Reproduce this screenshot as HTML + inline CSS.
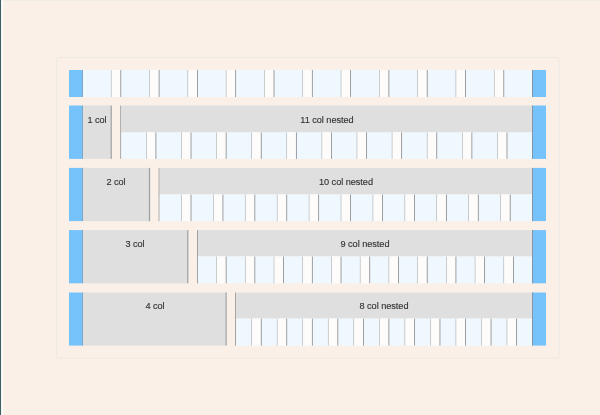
<!DOCTYPE html>
<html><head><meta charset="utf-8"><style>
html,body{margin:0;padding:0;}
body{width:600px;height:415px;background:#faf0e7;position:relative;overflow:hidden;font-family:"Liberation Sans",sans-serif;}
.t{position:absolute;width:120px;text-align:center;font-size:9.2px;letter-spacing:-0.05px;will-change:transform;line-height:12px;color:#333333;white-space:nowrap;-webkit-text-stroke:0.14px #333333;}
</style></head><body>
<svg width="600" height="415" viewBox="0 0 600 415" style="position:absolute;left:0;top:0"><rect x="0" y="0" width="600" height="1" fill="#efebe7"/><rect x="0" y="0" width="1.2" height="415" fill="#3e5d67"/><rect x="1.2" y="0" width="1.9" height="415" fill="#fdfdfb"/><rect x="56.6" y="57.5" width="502.7" height="300.8" rx="2.5" fill="none" stroke="#eeeae6" stroke-width="1.1"/><rect x="69.000" y="70.000" width="14.000" height="27.000" fill="#76c3fb"/><rect x="82.200" y="70.000" width="0.600" height="27.000" fill="#8793a0"/><rect x="532.000" y="70.000" width="14.000" height="27.000" fill="#76c3fb"/><rect x="532.150" y="70.000" width="0.700" height="27.000" fill="#8a8480"/><rect x="83.000" y="70.000" width="449.000" height="27.000" fill="#eff8ff"/><rect x="110.700" y="70.000" width="10.600" height="27.000" fill="#fdfcfb"/><rect x="110.900" y="70.000" width="0.600" height="27.000" fill="#a3abb2"/><rect x="120.420" y="70.000" width="0.760" height="27.000" fill="#7e8185"/><rect x="149.000" y="70.000" width="10.600" height="27.000" fill="#fdfcfb"/><rect x="149.200" y="70.000" width="0.600" height="27.000" fill="#a3abb2"/><rect x="158.720" y="70.000" width="0.760" height="27.000" fill="#7e8185"/><rect x="187.300" y="70.000" width="10.600" height="27.000" fill="#fdfcfb"/><rect x="187.500" y="70.000" width="0.600" height="27.000" fill="#a3abb2"/><rect x="197.020" y="70.000" width="0.760" height="27.000" fill="#7e8185"/><rect x="225.600" y="70.000" width="10.600" height="27.000" fill="#fdfcfb"/><rect x="225.800" y="70.000" width="0.600" height="27.000" fill="#a3abb2"/><rect x="235.320" y="70.000" width="0.760" height="27.000" fill="#7e8185"/><rect x="263.900" y="70.000" width="10.600" height="27.000" fill="#fdfcfb"/><rect x="264.100" y="70.000" width="0.600" height="27.000" fill="#a3abb2"/><rect x="273.620" y="70.000" width="0.760" height="27.000" fill="#7e8185"/><rect x="302.200" y="70.000" width="10.600" height="27.000" fill="#fdfcfb"/><rect x="302.400" y="70.000" width="0.600" height="27.000" fill="#a3abb2"/><rect x="311.920" y="70.000" width="0.760" height="27.000" fill="#7e8185"/><rect x="340.500" y="70.000" width="10.600" height="27.000" fill="#fdfcfb"/><rect x="340.700" y="70.000" width="0.600" height="27.000" fill="#a3abb2"/><rect x="350.220" y="70.000" width="0.760" height="27.000" fill="#7e8185"/><rect x="378.800" y="70.000" width="10.600" height="27.000" fill="#fdfcfb"/><rect x="379.000" y="70.000" width="0.600" height="27.000" fill="#a3abb2"/><rect x="388.520" y="70.000" width="0.760" height="27.000" fill="#7e8185"/><rect x="417.100" y="70.000" width="10.600" height="27.000" fill="#fdfcfb"/><rect x="417.300" y="70.000" width="0.600" height="27.000" fill="#a3abb2"/><rect x="426.820" y="70.000" width="0.760" height="27.000" fill="#7e8185"/><rect x="455.400" y="70.000" width="10.600" height="27.000" fill="#fdfcfb"/><rect x="455.600" y="70.000" width="0.600" height="27.000" fill="#a3abb2"/><rect x="465.120" y="70.000" width="0.760" height="27.000" fill="#7e8185"/><rect x="493.700" y="70.000" width="10.600" height="27.000" fill="#fdfcfb"/><rect x="493.900" y="70.000" width="0.600" height="27.000" fill="#a3abb2"/><rect x="503.420" y="70.000" width="0.760" height="27.000" fill="#7e8185"/><rect x="69.000" y="105.500" width="14.000" height="53.400" fill="#76c3fb"/><rect x="82.200" y="105.500" width="0.600" height="53.400" fill="#8793a0"/><rect x="532.000" y="105.500" width="14.000" height="53.400" fill="#76c3fb"/><rect x="532.150" y="105.500" width="0.700" height="53.400" fill="#8a8480"/><rect x="83.000" y="105.500" width="27.700" height="53.400" fill="#dfdfdf"/><rect x="110.600" y="105.500" width="1.200" height="53.400" fill="#9a9fa4"/><rect x="120.420" y="105.500" width="0.760" height="53.400" fill="#7e8185"/><rect x="121.300" y="105.500" width="410.700" height="26.900" fill="#dfdfdf"/><rect x="121.300" y="132.400" width="410.700" height="26.500" fill="#eff8ff"/><rect x="145.808" y="132.400" width="10.600" height="26.500" fill="#fdfcfb"/><rect x="146.008" y="132.400" width="0.600" height="26.500" fill="#a3abb2"/><rect x="155.528" y="132.400" width="0.760" height="26.500" fill="#7e8185"/><rect x="180.917" y="132.400" width="10.600" height="26.500" fill="#fdfcfb"/><rect x="181.117" y="132.400" width="0.600" height="26.500" fill="#a3abb2"/><rect x="190.637" y="132.400" width="0.760" height="26.500" fill="#7e8185"/><rect x="216.025" y="132.400" width="10.600" height="26.500" fill="#fdfcfb"/><rect x="216.225" y="132.400" width="0.600" height="26.500" fill="#a3abb2"/><rect x="225.745" y="132.400" width="0.760" height="26.500" fill="#7e8185"/><rect x="251.133" y="132.400" width="10.600" height="26.500" fill="#fdfcfb"/><rect x="251.333" y="132.400" width="0.600" height="26.500" fill="#a3abb2"/><rect x="260.853" y="132.400" width="0.760" height="26.500" fill="#7e8185"/><rect x="286.242" y="132.400" width="10.600" height="26.500" fill="#fdfcfb"/><rect x="286.442" y="132.400" width="0.600" height="26.500" fill="#a3abb2"/><rect x="295.962" y="132.400" width="0.760" height="26.500" fill="#7e8185"/><rect x="321.350" y="132.400" width="10.600" height="26.500" fill="#fdfcfb"/><rect x="321.550" y="132.400" width="0.600" height="26.500" fill="#a3abb2"/><rect x="331.070" y="132.400" width="0.760" height="26.500" fill="#7e8185"/><rect x="356.458" y="132.400" width="10.600" height="26.500" fill="#fdfcfb"/><rect x="356.658" y="132.400" width="0.600" height="26.500" fill="#a3abb2"/><rect x="366.178" y="132.400" width="0.760" height="26.500" fill="#7e8185"/><rect x="391.567" y="132.400" width="10.600" height="26.500" fill="#fdfcfb"/><rect x="391.767" y="132.400" width="0.600" height="26.500" fill="#a3abb2"/><rect x="401.287" y="132.400" width="0.760" height="26.500" fill="#7e8185"/><rect x="426.675" y="132.400" width="10.600" height="26.500" fill="#fdfcfb"/><rect x="426.875" y="132.400" width="0.600" height="26.500" fill="#a3abb2"/><rect x="436.395" y="132.400" width="0.760" height="26.500" fill="#7e8185"/><rect x="461.783" y="132.400" width="10.600" height="26.500" fill="#fdfcfb"/><rect x="461.983" y="132.400" width="0.600" height="26.500" fill="#a3abb2"/><rect x="471.503" y="132.400" width="0.760" height="26.500" fill="#7e8185"/><rect x="496.892" y="132.400" width="10.600" height="26.500" fill="#fdfcfb"/><rect x="497.092" y="132.400" width="0.600" height="26.500" fill="#a3abb2"/><rect x="506.612" y="132.400" width="0.760" height="26.500" fill="#7e8185"/><rect x="69.000" y="167.900" width="14.000" height="53.200" fill="#76c3fb"/><rect x="82.200" y="167.900" width="0.600" height="53.200" fill="#8793a0"/><rect x="532.000" y="167.900" width="14.000" height="53.200" fill="#76c3fb"/><rect x="532.150" y="167.900" width="0.700" height="53.200" fill="#8a8480"/><rect x="83.000" y="167.900" width="66.000" height="53.200" fill="#dfdfdf"/><rect x="148.900" y="167.900" width="1.200" height="53.200" fill="#9a9fa4"/><rect x="158.720" y="167.900" width="0.760" height="53.200" fill="#7e8185"/><rect x="159.600" y="167.900" width="372.400" height="26.600" fill="#dfdfdf"/><rect x="159.600" y="194.500" width="372.400" height="26.600" fill="#eff8ff"/><rect x="180.917" y="194.500" width="10.600" height="26.600" fill="#fdfcfb"/><rect x="181.117" y="194.500" width="0.600" height="26.600" fill="#a3abb2"/><rect x="190.637" y="194.500" width="0.760" height="26.600" fill="#7e8185"/><rect x="212.833" y="194.500" width="10.600" height="26.600" fill="#fdfcfb"/><rect x="213.033" y="194.500" width="0.600" height="26.600" fill="#a3abb2"/><rect x="222.553" y="194.500" width="0.760" height="26.600" fill="#7e8185"/><rect x="244.750" y="194.500" width="10.600" height="26.600" fill="#fdfcfb"/><rect x="244.950" y="194.500" width="0.600" height="26.600" fill="#a3abb2"/><rect x="254.470" y="194.500" width="0.760" height="26.600" fill="#7e8185"/><rect x="276.667" y="194.500" width="10.600" height="26.600" fill="#fdfcfb"/><rect x="276.867" y="194.500" width="0.600" height="26.600" fill="#a3abb2"/><rect x="286.387" y="194.500" width="0.760" height="26.600" fill="#7e8185"/><rect x="308.583" y="194.500" width="10.600" height="26.600" fill="#fdfcfb"/><rect x="308.783" y="194.500" width="0.600" height="26.600" fill="#a3abb2"/><rect x="318.303" y="194.500" width="0.760" height="26.600" fill="#7e8185"/><rect x="340.500" y="194.500" width="10.600" height="26.600" fill="#fdfcfb"/><rect x="340.700" y="194.500" width="0.600" height="26.600" fill="#a3abb2"/><rect x="350.220" y="194.500" width="0.760" height="26.600" fill="#7e8185"/><rect x="372.417" y="194.500" width="10.600" height="26.600" fill="#fdfcfb"/><rect x="372.617" y="194.500" width="0.600" height="26.600" fill="#a3abb2"/><rect x="382.137" y="194.500" width="0.760" height="26.600" fill="#7e8185"/><rect x="404.333" y="194.500" width="10.600" height="26.600" fill="#fdfcfb"/><rect x="404.533" y="194.500" width="0.600" height="26.600" fill="#a3abb2"/><rect x="414.053" y="194.500" width="0.760" height="26.600" fill="#7e8185"/><rect x="436.250" y="194.500" width="10.600" height="26.600" fill="#fdfcfb"/><rect x="436.450" y="194.500" width="0.600" height="26.600" fill="#a3abb2"/><rect x="445.970" y="194.500" width="0.760" height="26.600" fill="#7e8185"/><rect x="468.167" y="194.500" width="10.600" height="26.600" fill="#fdfcfb"/><rect x="468.367" y="194.500" width="0.600" height="26.600" fill="#a3abb2"/><rect x="477.887" y="194.500" width="0.760" height="26.600" fill="#7e8185"/><rect x="500.083" y="194.500" width="10.600" height="26.600" fill="#fdfcfb"/><rect x="500.283" y="194.500" width="0.600" height="26.600" fill="#a3abb2"/><rect x="509.803" y="194.500" width="0.760" height="26.600" fill="#7e8185"/><rect x="69.000" y="230.100" width="14.000" height="53.200" fill="#76c3fb"/><rect x="82.200" y="230.100" width="0.600" height="53.200" fill="#8793a0"/><rect x="532.000" y="230.100" width="14.000" height="53.200" fill="#76c3fb"/><rect x="532.150" y="230.100" width="0.700" height="53.200" fill="#8a8480"/><rect x="83.000" y="230.100" width="104.300" height="53.200" fill="#dfdfdf"/><rect x="187.200" y="230.100" width="1.200" height="53.200" fill="#9a9fa4"/><rect x="197.020" y="230.100" width="0.760" height="53.200" fill="#7e8185"/><rect x="197.900" y="230.100" width="334.100" height="26.400" fill="#dfdfdf"/><rect x="197.900" y="256.500" width="334.100" height="26.800" fill="#eff8ff"/><rect x="216.025" y="256.500" width="10.600" height="26.800" fill="#fdfcfb"/><rect x="216.225" y="256.500" width="0.600" height="26.800" fill="#a3abb2"/><rect x="225.745" y="256.500" width="0.760" height="26.800" fill="#7e8185"/><rect x="244.750" y="256.500" width="10.600" height="26.800" fill="#fdfcfb"/><rect x="244.950" y="256.500" width="0.600" height="26.800" fill="#a3abb2"/><rect x="254.470" y="256.500" width="0.760" height="26.800" fill="#7e8185"/><rect x="273.475" y="256.500" width="10.600" height="26.800" fill="#fdfcfb"/><rect x="273.675" y="256.500" width="0.600" height="26.800" fill="#a3abb2"/><rect x="283.195" y="256.500" width="0.760" height="26.800" fill="#7e8185"/><rect x="302.200" y="256.500" width="10.600" height="26.800" fill="#fdfcfb"/><rect x="302.400" y="256.500" width="0.600" height="26.800" fill="#a3abb2"/><rect x="311.920" y="256.500" width="0.760" height="26.800" fill="#7e8185"/><rect x="330.925" y="256.500" width="10.600" height="26.800" fill="#fdfcfb"/><rect x="331.125" y="256.500" width="0.600" height="26.800" fill="#a3abb2"/><rect x="340.645" y="256.500" width="0.760" height="26.800" fill="#7e8185"/><rect x="359.650" y="256.500" width="10.600" height="26.800" fill="#fdfcfb"/><rect x="359.850" y="256.500" width="0.600" height="26.800" fill="#a3abb2"/><rect x="369.370" y="256.500" width="0.760" height="26.800" fill="#7e8185"/><rect x="388.375" y="256.500" width="10.600" height="26.800" fill="#fdfcfb"/><rect x="388.575" y="256.500" width="0.600" height="26.800" fill="#a3abb2"/><rect x="398.095" y="256.500" width="0.760" height="26.800" fill="#7e8185"/><rect x="417.100" y="256.500" width="10.600" height="26.800" fill="#fdfcfb"/><rect x="417.300" y="256.500" width="0.600" height="26.800" fill="#a3abb2"/><rect x="426.820" y="256.500" width="0.760" height="26.800" fill="#7e8185"/><rect x="445.825" y="256.500" width="10.600" height="26.800" fill="#fdfcfb"/><rect x="446.025" y="256.500" width="0.600" height="26.800" fill="#a3abb2"/><rect x="455.545" y="256.500" width="0.760" height="26.800" fill="#7e8185"/><rect x="474.550" y="256.500" width="10.600" height="26.800" fill="#fdfcfb"/><rect x="474.750" y="256.500" width="0.600" height="26.800" fill="#a3abb2"/><rect x="484.270" y="256.500" width="0.760" height="26.800" fill="#7e8185"/><rect x="503.275" y="256.500" width="10.600" height="26.800" fill="#fdfcfb"/><rect x="503.475" y="256.500" width="0.600" height="26.800" fill="#a3abb2"/><rect x="512.995" y="256.500" width="0.760" height="26.800" fill="#7e8185"/><rect x="69.000" y="292.500" width="14.000" height="53.100" fill="#76c3fb"/><rect x="82.200" y="292.500" width="0.600" height="53.100" fill="#8793a0"/><rect x="532.000" y="292.500" width="14.000" height="53.100" fill="#76c3fb"/><rect x="532.150" y="292.500" width="0.700" height="53.100" fill="#8a8480"/><rect x="83.000" y="292.500" width="142.600" height="53.100" fill="#dfdfdf"/><rect x="225.500" y="292.500" width="1.200" height="53.100" fill="#9a9fa4"/><rect x="235.320" y="292.500" width="0.760" height="53.100" fill="#7e8185"/><rect x="236.200" y="292.500" width="295.800" height="26.100" fill="#dfdfdf"/><rect x="236.200" y="318.600" width="295.800" height="27.000" fill="#eff8ff"/><rect x="251.133" y="318.600" width="10.600" height="27.000" fill="#fdfcfb"/><rect x="251.333" y="318.600" width="0.600" height="27.000" fill="#a3abb2"/><rect x="260.853" y="318.600" width="0.760" height="27.000" fill="#7e8185"/><rect x="276.667" y="318.600" width="10.600" height="27.000" fill="#fdfcfb"/><rect x="276.867" y="318.600" width="0.600" height="27.000" fill="#a3abb2"/><rect x="286.387" y="318.600" width="0.760" height="27.000" fill="#7e8185"/><rect x="302.200" y="318.600" width="10.600" height="27.000" fill="#fdfcfb"/><rect x="302.400" y="318.600" width="0.600" height="27.000" fill="#a3abb2"/><rect x="311.920" y="318.600" width="0.760" height="27.000" fill="#7e8185"/><rect x="327.733" y="318.600" width="10.600" height="27.000" fill="#fdfcfb"/><rect x="327.933" y="318.600" width="0.600" height="27.000" fill="#a3abb2"/><rect x="337.453" y="318.600" width="0.760" height="27.000" fill="#7e8185"/><rect x="353.267" y="318.600" width="10.600" height="27.000" fill="#fdfcfb"/><rect x="353.467" y="318.600" width="0.600" height="27.000" fill="#a3abb2"/><rect x="362.987" y="318.600" width="0.760" height="27.000" fill="#7e8185"/><rect x="378.800" y="318.600" width="10.600" height="27.000" fill="#fdfcfb"/><rect x="379.000" y="318.600" width="0.600" height="27.000" fill="#a3abb2"/><rect x="388.520" y="318.600" width="0.760" height="27.000" fill="#7e8185"/><rect x="404.333" y="318.600" width="10.600" height="27.000" fill="#fdfcfb"/><rect x="404.533" y="318.600" width="0.600" height="27.000" fill="#a3abb2"/><rect x="414.053" y="318.600" width="0.760" height="27.000" fill="#7e8185"/><rect x="429.867" y="318.600" width="10.600" height="27.000" fill="#fdfcfb"/><rect x="430.067" y="318.600" width="0.600" height="27.000" fill="#a3abb2"/><rect x="439.587" y="318.600" width="0.760" height="27.000" fill="#7e8185"/><rect x="455.400" y="318.600" width="10.600" height="27.000" fill="#fdfcfb"/><rect x="455.600" y="318.600" width="0.600" height="27.000" fill="#a3abb2"/><rect x="465.120" y="318.600" width="0.760" height="27.000" fill="#7e8185"/><rect x="480.933" y="318.600" width="10.600" height="27.000" fill="#fdfcfb"/><rect x="481.133" y="318.600" width="0.600" height="27.000" fill="#a3abb2"/><rect x="490.653" y="318.600" width="0.760" height="27.000" fill="#7e8185"/><rect x="506.467" y="318.600" width="10.600" height="27.000" fill="#fdfcfb"/><rect x="506.667" y="318.600" width="0.600" height="27.000" fill="#a3abb2"/><rect x="516.187" y="318.600" width="0.760" height="27.000" fill="#7e8185"/></svg>
<div class="t" style="left:37.15px;top:113.90px;">1 col</div>
<div class="t" style="left:266.95px;top:113.90px;">11 col nested</div>
<div class="t" style="left:56.30px;top:176.00px;">2 col</div>
<div class="t" style="left:286.10px;top:176.00px;">10 col nested</div>
<div class="t" style="left:75.45px;top:237.60px;">3 col</div>
<div class="t" style="left:305.25px;top:237.60px;">9 col nested</div>
<div class="t" style="left:94.60px;top:300.30px;">4 col</div>
<div class="t" style="left:324.40px;top:300.30px;">8 col nested</div>
</body></html>
